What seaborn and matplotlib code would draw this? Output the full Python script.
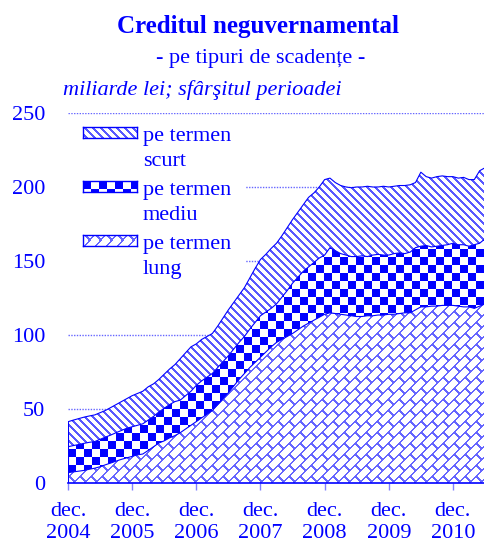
import numpy as np
import matplotlib
matplotlib.use("Agg")
import matplotlib.pyplot as plt
from matplotlib.patches import Rectangle
import seaborn as sns

# --- date: miliarde lei, sfarsitul lunii, dec. 2004 - iun. 2011 ---
termen_lung = [7, 7.5, 8, 8.5, 9.3, 10, 11, 12.3, 13.5, 14.8, 16, 17, 18, 19, 19.6, 22, 24.5, 27,
               28.5, 30.5, 32, 34, 36.5, 39, 41.5, 44, 46.5, 49, 53, 57, 61, 65.5, 70, 74, 78, 81.5,
               85, 88.5, 92, 95, 97, 99, 101, 103.5, 106, 108, 110, 112, 114, 115, 114.5, 114, 113.5,
               113, 112.5, 112.5, 113, 113, 113.5, 113.5, 114, 114, 114.5, 115, 115, 117, 119, 119,
               119.5, 119.5, 120, 120, 120, 119.5, 119, 119, 118, 119.5, 121]
termen_mediu = [17.5, 17.8, 18, 18.3, 18.2, 18, 18.5, 18.7, 18.9, 19.2, 19.5, 20, 20, 20, 20.4, 20.5,
                20.5, 21, 22, 22.5, 23, 22, 22.5, 23, 24.5, 25, 25, 25, 25, 25, 25, 25, 25, 25, 26, 27,
                28, 27, 26, 26, 28.5, 31, 34, 35.5, 37, 38, 39, 40, 40, 44, 42.5, 41, 40.5, 40, 40.5,
                41, 40, 41, 41, 40.5, 40, 41, 41, 40, 41, 42, 41, 41.5, 40, 40.5, 40.5, 41, 42, 41.5,
                42, 41, 43, 42.5, 44]
termen_scurt = [16.9, 17.2, 17.5, 17.7, 17.8, 18, 18, 18, 18.6, 19, 19.5, 20, 21, 21.5, 22, 22.5, 22,
                22, 23, 24, 25, 28, 29, 30, 28, 28, 27.5, 27, 28, 29.5, 31, 31.5, 32, 33, 34.5, 36.5,
                38, 39, 40.5, 41, 41.5, 42.5, 43, 44, 45, 47, 47, 48, 51, 47, 46, 46, 46, 46.5, 47,
                46.5, 47.5, 46, 45.5, 46.5, 46, 45.5, 45.5, 46, 45.5, 44, 50, 46.5, 46.5, 47, 47, 46,
                45, 45, 45.5, 45, 44, 49, 48]
ani = ["2004", "2005", "2006", "2007", "2008", "2009", "2010"]
serii = ["pe termen\nscurt", "pe termen\nmediu", "pe termen\nlung"]

BLUE = (0, 0, 1)

sns.set_theme(style="white")
plt.rcParams["font.family"] = ["Liberation Serif", "DejaVu Serif"]


def texture(kind, h, w):
    r, c = np.mgrid[0:h, 0:w]
    img = np.ones((h, w, 3))
    if kind == "scurt":
        mask = ((c - r) % 8) < 3
        img[mask] = (0.35, 0.35, 1.0)
    elif kind == "mediu":
        mask = ((r // 8 + c // 8) % 2) == 0
        img[mask] = BLUE
    else:
        u = c + r
        v = c - r
        k = u // 11
        mask = (u % 11 < 2) | (((v + (k % 2) * 11) % 22) < 3)
        img[mask] = (0.4, 0.4, 1.0)
    return img


fig = plt.figure(figsize=(4.85, 5.44), dpi=100)
ax = fig.add_axes([68 / 485, 1 - 483 / 544, 417 / 485, 370 / 544])

x = np.arange(len(termen_lung))
lung = np.array(termen_lung)
mediu = lung + np.array(termen_mediu)
total = mediu + np.array(termen_scurt)
xmax = x[-1]

layers = [(np.zeros_like(lung), lung, "lung"), (lung, mediu, "mediu"), (mediu, total, "scurt")]
for lo, hi, kind in layers:
    coll = ax.fill_between(x, lo, hi, facecolor="none", edgecolor="none")
    im = ax.imshow(texture(kind, 370, 417), extent=[0, xmax, 0, 250], aspect="auto",
                   interpolation="nearest", zorder=2)
    im.set_clip_path(coll.get_paths()[0], transform=ax.transData)

for y in [lung, mediu, total]:
    sns.lineplot(x=x, y=y, color=BLUE, lw=0.8, ax=ax, zorder=3)
ax.plot([0, 0], [0, total[0]], color=BLUE, lw=0.8, zorder=3)

ax.set_xlim(0, xmax)
ax.set_ylim(0, 250)
ax.set_yticks([0, 50, 100, 150, 200, 250])
ax.yaxis.grid(True, color=(0.4, 0.4, 1.0), linestyle=(0, (1, 1)), lw=1)
ax.set_axisbelow(True)
ax.set_xticks(np.arange(0, xmax, 12))
ax.set_xticklabels([f"dec.\n{a}" for a in ani])
ax.tick_params(axis="x", colors=(0.5, 0.5, 1.0), labelcolor=BLUE, labelsize=16, length=5,
               width=1, direction="out", pad=9, bottom=True)
ax.tick_params(axis="y", colors=BLUE, labelcolor=BLUE, labelsize=16, length=0, pad=16.5)
for lbl in ax.get_xticklabels():
    lbl.set_linespacing(1.15)
for s in ["left", "right", "top"]:
    ax.spines[s].set_visible(False)
ax.spines["bottom"].set_color(BLUE)
ax.spines["bottom"].set_linewidth(1.2)
ax.set_xlabel("")
ax.set_ylabel("")

# fundal alb sub legenda (acopera liniile de grila)
ax.add_patch(Rectangle((0, 1 - 160 / 370), 177 / 417, 150 / 370, transform=ax.transAxes,
                       facecolor="white", edgecolor="none", zorder=1.5))

# legenda
leg_y = [127, 181, 235]
for (name, kind), top in zip(zip(serii, ["scurt", "mediu", "lung"]), leg_y):
    lax = fig.add_axes([83 / 485, 1 - (top + 11) / 544, 54 / 485, 11 / 544])
    lax.imshow(texture(kind, 11, 54), aspect="auto", interpolation="nearest")
    lax.set_xticks([])
    lax.set_yticks([])
    for s in lax.spines.values():
        s.set_color(BLUE)
        s.set_linewidth(1)
    l1, l2 = name.split("\n")
    fig.text(143 / 485, 1 - (top + 14) / 544, l1, color=BLUE, fontsize=16, va="baseline")
    fig.text(143 / 485, 1 - (top + 39) / 544, l2, color=BLUE, fontsize=16, va="baseline")

fig.text(258 / 485, 1 - 33 / 544, "Creditul neguvernamental", color=BLUE, fontsize=18,
         fontweight="bold", ha="center", va="baseline")
fig.text(261 / 485, 1 - 63 / 544, "- pe tipuri de scadențe -", color=BLUE, fontsize=16,
         ha="center", va="baseline")
fig.text(63 / 485, 1 - 95 / 544, "miliarde lei; sfârşitul perioadei", color=BLUE, fontsize=16,
         style="italic", ha="left", va="baseline")

fig.savefig("out.png", dpi=100)
